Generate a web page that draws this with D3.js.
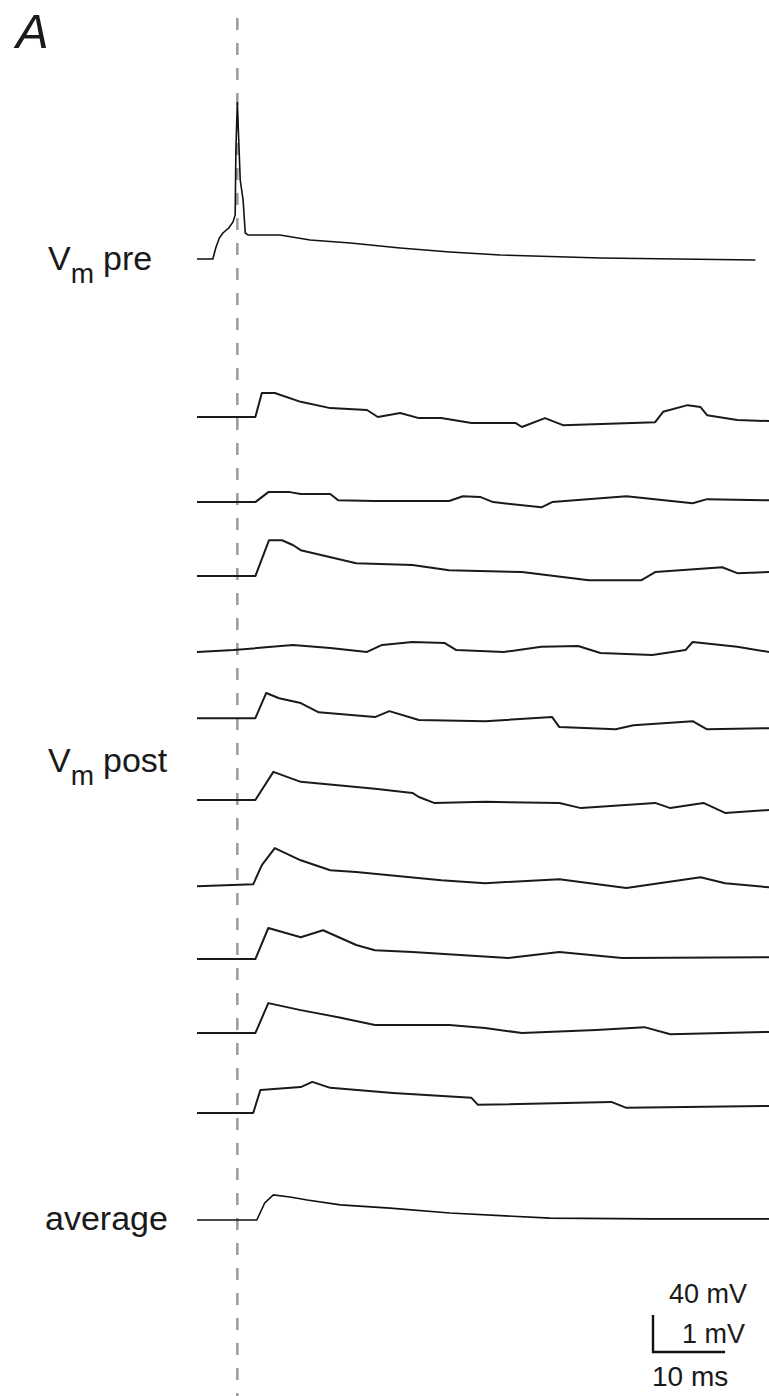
<!DOCTYPE html>
<html>
<head>
<meta charset="utf-8">
<script src="https://cdn.jsdelivr.net/npm/d3@7"></script>
<style>
  body { margin: 0; background: #fff; }
  text { font-family: "Liberation Sans", Arial, Helvetica, sans-serif; fill: #1a1a1a; }
</style>
</head>
<body>
<script>
// time in ms, voltages in mV relative to each sweep's baseline
var spikeTime = 5.6;

var preTrace = [[0,0],[2.2,0],[2.6,11.9],[3.1,22.7],[3.6,28.1],[4.4,33.5],[5.0,40.0],[5.3,47.6],
  [5.4,118.9],[5.6,169.7],[5.8,127],[6.0,85.4],[6.4,63.8],[6.7,28.1],[7.1,25.9],[11.5,25.9],
  [15.7,20.5],[21.3,17.3],[28.2,11.9],[35.1,7.6],[42.1,4.3],[56.0,1.1],[77.5,-1.1]];

var postTraces = [
  [[0,0],[8.1,0],[9.0,0.65],[10.8,0.65],[14.4,0.41],[18.5,0.24],[23.6,0.19],[25.1,0],[28.2,0.11],
   [30.8,-0.03],[33.9,-0.03],[38.1,-0.16],[44.2,-0.16],[45.1,-0.27],[48.3,-0.03],[50.8,-0.22],
   [63.6,-0.14],[64.7,0.14],[68.1,0.32],[69.9,0.27],[70.8,0.05],[75.0,-0.08],[79.4,-0.11]],
  [[0,0],[8.1,0],[9.9,0.27],[12.9,0.27],[14.4,0.22],[18.5,0.22],[19.6,0.05],[24.7,0.03],[35.0,0.03],
   [36.9,0.16],[39.3,0.14],[41.1,0],[47.8,-0.14],[49.3,0],[59.6,0.16],[68.8,-0.03],[70.8,0.08],[79.4,0.05]],
  [[0,0],[8.1,0],[10.0,0.97],[11.8,0.97],[13.3,0.84],[14.4,0.70],[22.1,0.35],[29.9,0.30],[35.0,0.16],
   [45.1,0.11],[54.4,-0.11],[61.7,-0.11],[63.6,0.11],[72.9,0.24],[75.0,0.08],[79.4,0.11]],
  [[0,0],[5.1,0.05],[13.3,0.19],[18.5,0.11],[23.6,0],[25.7,0.19],[29.9,0.27],[34.4,0.24],[36.0,0.05],
   [42.6,0],[47.8,0.14],[52.9,0.16],[56.0,-0.03],[63.2,-0.08],[67.8,0.05],[68.8,0.27],[75.0,0.14],[79.4,0]],
  [[0,0],[8.1,0],[9.6,0.68],[11.4,0.54],[14.4,0.41],[16.9,0.16],[24.7,0.03],[26.7,0.19],[30.8,-0.05],
   [40.0,-0.08],[49.3,0.03],[50.3,-0.24],[58.1,-0.30],[60.6,-0.19],[68.8,-0.08],[70.8,-0.30],[79.4,-0.27]],
  [[0,0],[8.1,0],[10.6,0.76],[14.4,0.49],[24.7,0.30],[29.9,0.19],[30.8,0.08],[32.9,-0.08],[40.0,-0.05],
   [50.3,-0.08],[53.3,-0.22],[63.6,-0.08],[65.7,-0.22],[70.3,-0.08],[73.3,-0.35],[79.4,-0.27]],
  [[0,0],[7.8,0.05],[9.0,0.57],[10.8,1.03],[14.4,0.70],[18.5,0.43],[22.1,0.38],[33.9,0.16],[40.0,0.08],
   [50.3,0.19],[59.6,-0.05],[69.9,0.24],[73.3,0.08],[79.4,-0.03]],
  [[0,0],[8.1,0],[9.9,0.84],[14.4,0.59],[17.5,0.78],[22.1,0.38],[24.7,0.24],[29.9,0.19],[43.2,0.03],
   [50.3,0.19],[59.0,0.03],[79.4,0.05]],
  [[0,0],[8.1,0],[9.9,0.81],[14.4,0.62],[19.6,0.43],[24.7,0.22],[35.0,0.22],[40.0,0.14],[45.1,0],
   [55.4,0.08],[62.1,0.16],[65.7,-0.03],[79.4,0.03]],
  [[0,0],[7.8,0],[8.8,0.62],[14.4,0.70],[16.0,0.84],[18.5,0.68],[27.2,0.54],[38.1,0.41],[39.0,0.22],
   [57.5,0.30],[59.6,0.14],[79.4,0.19]]
];

// resting level of each sweep relative to the even stacking (mV)
var postOffsets = [0, -0.21, -0.12, -0.08, 0.22, 0.10, -0.14, -0.02, 0.07, 0];

var averageTrace = [[0,0],[8.3,0],[9.4,0.46],[10.6,0.68],[12.9,0.62],[15.3,0.54],[19.9,0.41],
  [26.8,0.32],[35.1,0.19],[49.0,0.05],[62.9,0.03],[79.4,0.03]];

var scaleBar = {pre: 40, post: 1, time: 10};

var svg = d3.select("body").append("svg")
    .attr("width", 769)
    .attr("height", 1396);

// scales
var x = d3.scaleLinear().domain([0, 79.4]).range([197, 769]);
var yPre = d3.scaleLinear().domain([0, 40]).range([0, -37]);
var yPost = d3.scaleLinear().domain([0, 1]).range([0, -37]);
var rows = d3.scalePoint().domain(d3.range(postTraces.length)).range([417, 1113]);

// marker for spike time
svg.append("line")
    .attr("x1", x(spikeTime)).attr("x2", x(spikeTime))
    .attr("y1", 18).attr("y2", 1396)
    .attr("stroke", "#9a9a9a")
    .attr("stroke-width", 2.5)
    .attr("stroke-dasharray", "12,13");

function traceLine(yScale, base) {
    return d3.line()
        .x(function (d) { return x(d[0]); })
        .y(function (d) { return base + yScale(d[1]); });
}

// presynaptic
svg.append("path")
    .datum(preTrace)
    .attr("d", traceLine(yPre, 259))
    .attr("fill", "none")
    .attr("stroke", "#111")
    .attr("stroke-width", 1.6);

// postsynaptic sweeps
svg.selectAll(".sweep")
    .data(postTraces)
    .enter().append("path")
    .attr("class", "sweep")
    .attr("d", function (d, i) {
        return traceLine(yPost, rows(i) + yPost(postOffsets[i]))(d);
    })
    .attr("fill", "none")
    .attr("stroke", "#1a1a1a")
    .attr("stroke-width", 2)
    .attr("stroke-linejoin", "round");

// average
svg.append("path")
    .datum(averageTrace)
    .attr("d", traceLine(yPost, 1220))
    .attr("fill", "none")
    .attr("stroke", "#111")
    .attr("stroke-width", 1.6);

// labels
svg.append("text")
    .attr("x", 16).attr("y", 48)
    .style("font-size", "49px")
    .style("font-style", "italic")
    .text("A");

function vmLabel(y, word) {
    var t = svg.append("text").attr("x", 48).attr("y", y).style("font-size", "34px");
    t.append("tspan").text("V");
    t.append("tspan").attr("dy", 13).style("font-size", "28px").text("m");
    t.append("tspan").attr("dy", -13).attr("dx", 9).text(word);
}
vmLabel(270, "pre");
vmLabel(772, "post");

svg.append("text")
    .attr("x", 45).attr("y", 1230)
    .style("font-size", "34px")
    .text("average");

// scale bar
var barX = 653, barY = 1352;
svg.append("path")
    .attr("d", "M" + barX + "," + (barY + yPost(scaleBar.post)) +
               "V" + barY +
               "H" + (barX + x(scaleBar.time) - x(0)))
    .attr("fill", "none")
    .attr("stroke", "#111")
    .attr("stroke-width", 2.4);

svg.append("text")
    .attr("x", 747).attr("y", 1303)
    .attr("text-anchor", "end")
    .style("font-size", "27px")
    .text(scaleBar.pre + " mV");

svg.append("text")
    .attr("x", 745).attr("y", 1343)
    .attr("text-anchor", "end")
    .style("font-size", "27px")
    .text(scaleBar.post + " mV");

svg.append("text")
    .attr("x", 652).attr("y", 1386)
    .style("font-size", "28px")
    .text(scaleBar.time + " ms");
</script>
</body>
</html>
